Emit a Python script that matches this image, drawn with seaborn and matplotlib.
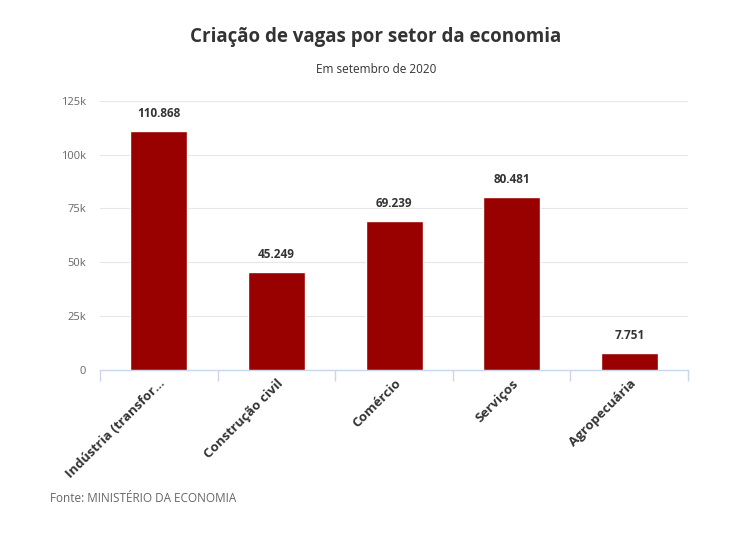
import matplotlib
matplotlib.use("Agg")
import matplotlib.pyplot as plt
import matplotlib.ticker as mticker
import pandas as pd
import seaborn as sns

# Data
setores = ["Indústria (transfor...", "Construção civil", "Comércio", "Serviços", "Agropecuária"]
vagas = [110868, 45249, 69239, 80481, 7751]
rotulos = ["110.868", "45.249", "69.239", "80.481", "7.751"]

df = pd.DataFrame({"setor": setores, "vagas": vagas})

sns.set_style("white")
plt.rcParams["font.family"] = ["Open Sans", "DejaVu Sans"]

fig = plt.figure(figsize=(7.52, 5.48), dpi=100)
ax = fig.add_axes([0.133, 0.325, 0.782, 0.491])

sns.barplot(data=df, x="setor", y="vagas", color="#990000", width=0.485,
            saturation=1, ax=ax, zorder=3)

ax.set_ylim(0, 125000)
ax.set_xlim(-0.5, 4.5)
ax.yaxis.set_major_locator(mticker.MultipleLocator(25000))
ax.yaxis.set_major_formatter(mticker.FuncFormatter(lambda v, p: "0" if v == 0 else f"{int(v/1000)}k"))
ax.grid(axis="y", color="#e6e6e6", linewidth=0.8, zorder=0)
ax.set_xlabel("")
ax.set_ylabel("")

for s in ["top", "right", "left"]:
    ax.spines[s].set_visible(False)
ax.spines["bottom"].set_color("#ccd6eb")
ax.spines["bottom"].set_linewidth(1)

ax.tick_params(axis="y", length=0, labelsize=8, labelcolor="#666666", pad=10)
ax.tick_params(axis="x", which="major", length=0, labelsize=9.5, labelcolor="#333333", pad=5)
ax.set_xticks([i - 0.5 for i in range(6)], minor=True)
ax.tick_params(axis="x", which="minor", bottom=True, length=8, color="#ccd6eb", width=1, direction="out")
for lab in ax.get_xticklabels():
    lab.set_rotation(45)
    lab.set_ha("right")
    lab.set_rotation_mode("anchor")
    lab.set_fontweight("bold")

for i, (v, t) in enumerate(zip(vagas, rotulos)):
    ax.annotate(t, (i, v), xytext=(0, 8), textcoords="offset points",
                ha="center", va="bottom", fontsize=8.5, fontweight="bold", color="#333333")

fig.text(0.5, 0.932, "Criação de vagas por setor da economia", ha="center", va="center",
         fontsize=13.5, fontweight="bold", color="#333333")
fig.text(0.5, 0.873, "Em setembro de 2020", ha="center", va="center",
         fontsize=8.5, color="#333333")
fig.text(0.067, 0.091, "Fonte: MINISTÉRIO DA ECONOMIA", ha="left", va="center",
         fontsize=8.5, color="#666666")

fig.savefig("out.png", dpi=100, facecolor="white")
